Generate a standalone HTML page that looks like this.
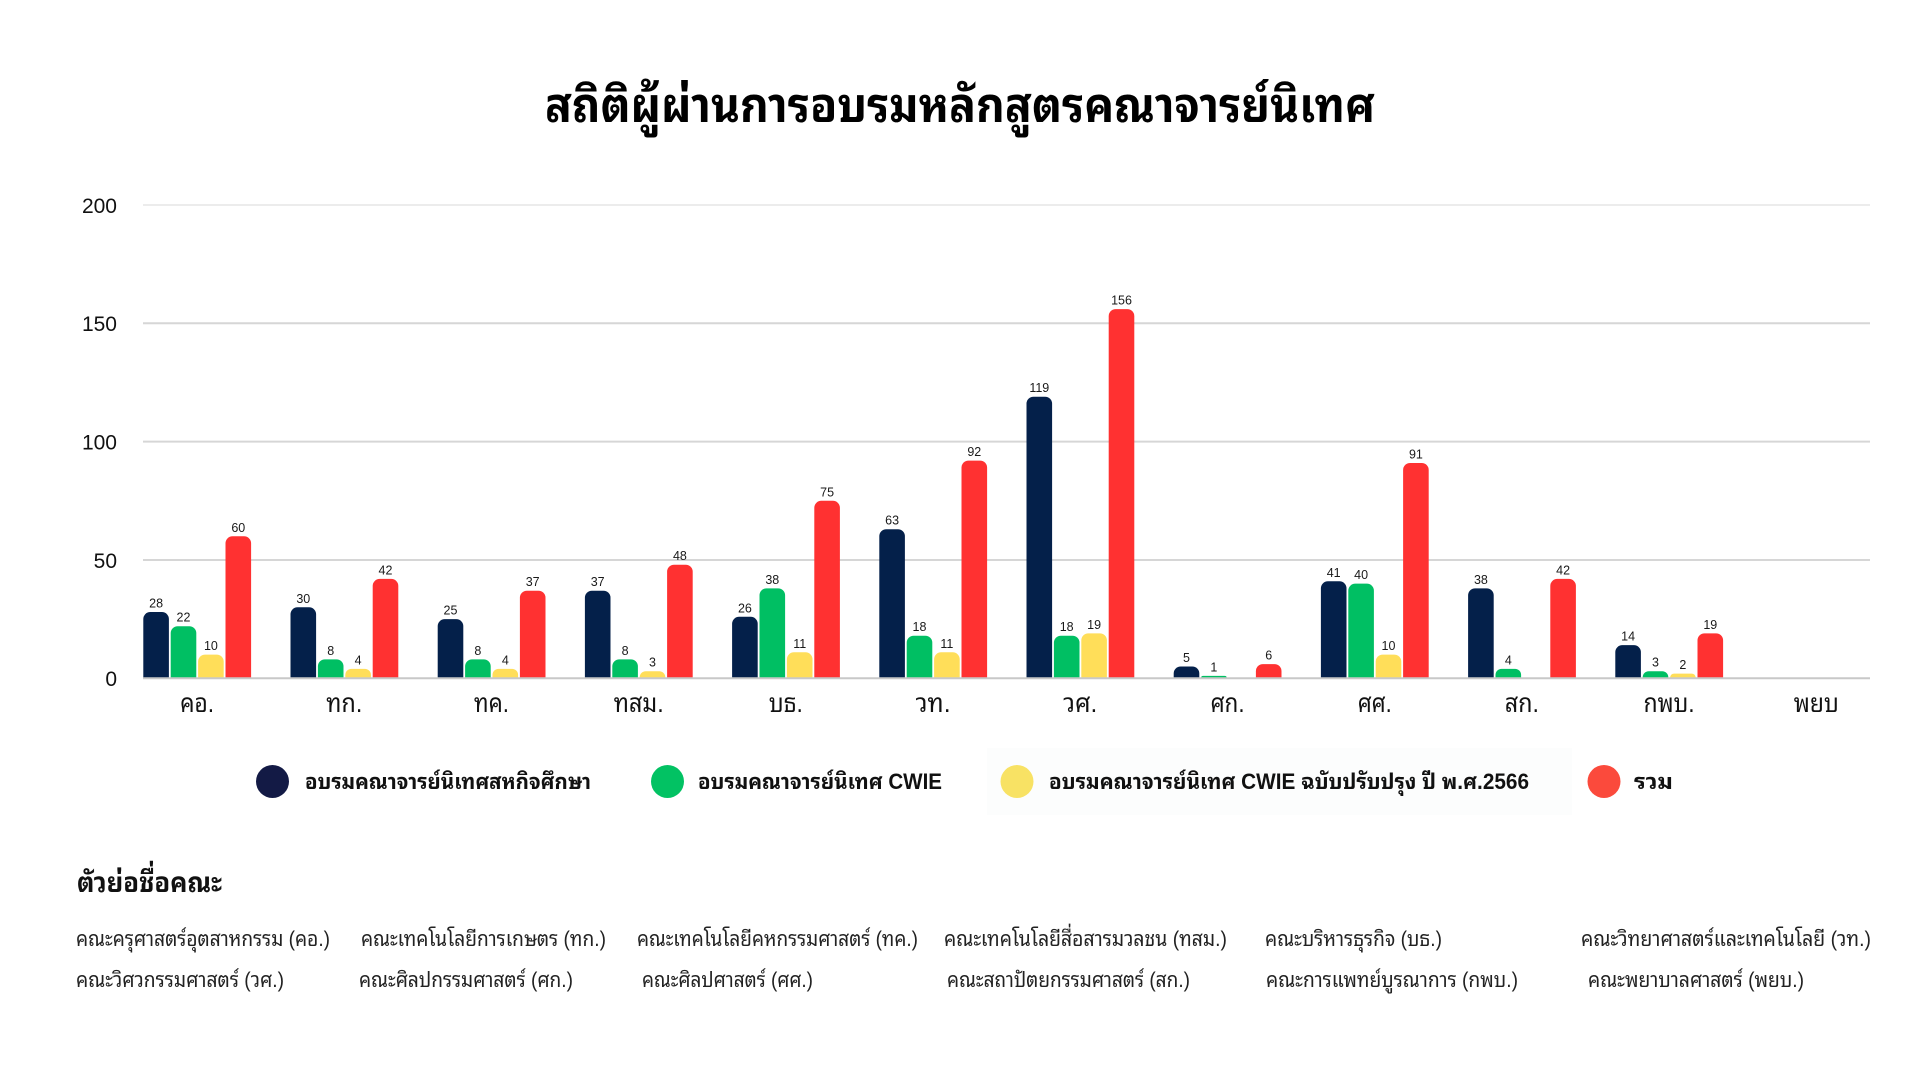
<!DOCTYPE html>
<html>
<head>
<meta charset="utf-8">
<style>
html,body{margin:0;padding:0;background:#fff;}
svg{display:block;}
.th{font-family:"Liberation Sans","Noto Sans Thai Looped","Loma","Tahoma","Garuda","Norasi","Noto Sans Thai","Noto Sans Thai UI","Sarabun","DejaVu Sans",sans-serif;}
.num{font-family:"Liberation Sans","DejaVu Sans",sans-serif;}
</style>
</head>
<body>
<svg width="1920" height="1080" viewBox="0 0 1920 1080" xmlns="http://www.w3.org/2000/svg">
<rect x="0" y="0" width="1920" height="1080" fill="#ffffff"/>
<defs>
<clipPath id="plot"><rect x="0" y="0" width="1920" height="678.3"/></clipPath>
</defs>

<!-- Title -->
<text class="th" x="960" y="122" font-size="48" font-weight="bold" fill="#000" text-anchor="middle" textLength="830" lengthAdjust="spacingAndGlyphs">สถิติผู้ผ่านการอบรมหลักสูตรคณาจารย์นิเทศ</text>

<!-- Gridlines -->
<g stroke-width="2">
<line x1="143" y1="205" x2="1870" y2="205" stroke="#ececec"/>
<line x1="143" y1="323.3" x2="1870" y2="323.3" stroke="#d6d6d6"/>
<line x1="143" y1="441.6" x2="1870" y2="441.6" stroke="#d6d6d6"/>
<line x1="143" y1="560" x2="1870" y2="560" stroke="#d6d6d6"/>
</g>

<!-- Y labels -->
<g class="num" font-size="21" fill="#111" text-anchor="end">
<text x="117" y="213">200</text>
<text x="117" y="331">150</text>
<text x="117" y="449.5">100</text>
<text x="117" y="568">50</text>
<text x="117" y="686">0</text>
</g>

<!-- Bars -->
<g clip-path="url(#plot)">
<g fill="#04204a">
<rect x="143.3" y="612.04" width="25.6" height="80" rx="7"/>
<rect x="290.5" y="607.3" width="25.6" height="80" rx="7"/>
<rect x="437.7" y="619.14" width="25.6" height="80" rx="7"/>
<rect x="584.9" y="590.74" width="25.6" height="100" rx="7"/>
<rect x="732.1" y="616.77" width="25.6" height="80" rx="7"/>
<rect x="879.3" y="529.21" width="25.6" height="160" rx="7"/>
<rect x="1026.5" y="396.69" width="25.6" height="290" rx="7"/>
<rect x="1173.7" y="666.47" width="25.6" height="20" rx="7"/>
<rect x="1320.9" y="581.27" width="25.6" height="110" rx="7"/>
<rect x="1468.1" y="588.37" width="25.6" height="100" rx="7"/>
<rect x="1615.3" y="645.17" width="25.6" height="45" rx="7"/>
</g>
<g fill="#00bf63">
<rect x="170.7" y="626.24" width="25.6" height="60" rx="7"/>
<rect x="317.9" y="659.37" width="25.6" height="30" rx="7"/>
<rect x="465.1" y="659.37" width="25.6" height="30" rx="7"/>
<rect x="612.3" y="659.37" width="25.6" height="30" rx="7"/>
<rect x="759.5" y="588.37" width="25.6" height="100" rx="7"/>
<rect x="906.7" y="635.7" width="25.6" height="55" rx="7"/>
<rect x="1053.9" y="635.7" width="25.6" height="55" rx="7"/>
<rect x="1201.1" y="675.93" width="25.6" height="6" rx="2"/>
<rect x="1348.3" y="583.64" width="25.6" height="100" rx="7"/>
<rect x="1495.5" y="668.83" width="25.6" height="20" rx="6"/>
<rect x="1642.7" y="671.2" width="25.6" height="15" rx="6"/>
</g>
<g fill="#ffde59">
<rect x="198.1" y="654.63" width="25.6" height="35" rx="7"/>
<rect x="345.3" y="668.83" width="25.6" height="20" rx="6"/>
<rect x="492.5" y="668.83" width="25.6" height="20" rx="6"/>
<rect x="639.7" y="671.2" width="25.6" height="15" rx="6"/>
<rect x="786.9" y="652.27" width="25.6" height="35" rx="7"/>
<rect x="934.1" y="652.27" width="25.6" height="35" rx="7"/>
<rect x="1081.3" y="633.34" width="25.6" height="55" rx="7"/>
<rect x="1375.7" y="654.63" width="25.6" height="35" rx="7"/>
<rect x="1670.1" y="673.57" width="25.6" height="12" rx="4"/>
</g>
<g fill="#ff3131">
<rect x="225.5" y="536.31" width="25.6" height="150" rx="7"/>
<rect x="372.7" y="578.91" width="25.6" height="110" rx="7"/>
<rect x="519.9" y="590.74" width="25.6" height="100" rx="7"/>
<rect x="667.1" y="564.71" width="25.6" height="120" rx="7"/>
<rect x="814.3" y="500.81" width="25.6" height="185" rx="7"/>
<rect x="961.5" y="460.58" width="25.6" height="225" rx="7"/>
<rect x="1108.7" y="309.13" width="25.6" height="380" rx="7"/>
<rect x="1255.9" y="664.1" width="25.6" height="20" rx="7"/>
<rect x="1403.1" y="462.95" width="25.6" height="225" rx="7"/>
<rect x="1550.3" y="578.91" width="25.6" height="110" rx="7"/>
<rect x="1697.5" y="633.34" width="25.6" height="55" rx="7"/>
</g>
</g>

<line x1="143" y1="678.3" x2="1870" y2="678.3" stroke="#c8c8c8" stroke-width="2"/>

<!-- Value labels -->
<g class="num" font-size="12.5" fill="#1a1a1a" text-anchor="middle">
<text x="156.1" y="607.5">28</text>
<text x="303.3" y="602.8">30</text>
<text x="450.5" y="614.6">25</text>
<text x="597.7" y="586.2">37</text>
<text x="744.9" y="612.3">26</text>
<text x="892.1" y="524.7">63</text>
<text x="1039.3" y="392.2">119</text>
<text x="1186.5" y="662">5</text>
<text x="1333.7" y="576.8">41</text>
<text x="1480.9" y="583.9">38</text>
<text x="1628.1" y="640.7">14</text>
<text x="183.5" y="621.7">22</text>
<text x="330.7" y="654.9">8</text>
<text x="477.9" y="654.9">8</text>
<text x="625.1" y="654.9">8</text>
<text x="772.3" y="583.9">38</text>
<text x="919.5" y="631.2">18</text>
<text x="1066.7" y="631.2">18</text>
<text x="1213.9" y="671.4">1</text>
<text x="1361.1" y="579.1">40</text>
<text x="1508.3" y="664.3">4</text>
<text x="1655.5" y="666.7">3</text>
<text x="210.9" y="650.1">10</text>
<text x="358.1" y="664.3">4</text>
<text x="505.3" y="664.3">4</text>
<text x="652.5" y="666.7">3</text>
<text x="799.7" y="647.8">11</text>
<text x="946.9" y="647.8">11</text>
<text x="1094.1" y="628.8">19</text>
<text x="1388.5" y="650.1">10</text>
<text x="1682.9" y="669.1">2</text>
<text x="238.3" y="531.8">60</text>
<text x="385.5" y="574.4">42</text>
<text x="532.7" y="586.2">37</text>
<text x="679.9" y="560.2">48</text>
<text x="827.1" y="496.3">75</text>
<text x="974.3" y="456.1">92</text>
<text x="1121.5" y="304.6">156</text>
<text x="1268.7" y="659.6">6</text>
<text x="1415.9" y="458.5">91</text>
<text x="1563.1" y="574.4">42</text>
<text x="1710.3" y="628.8">19</text>
</g>

<!-- Category labels -->
<g class="th" font-size="26" fill="#111" text-anchor="middle">
<text x="197.1" y="712" textLength="34" lengthAdjust="spacingAndGlyphs">คอ.</text>
<text x="344.3" y="712" textLength="36" lengthAdjust="spacingAndGlyphs">ทก.</text>
<text x="491.5" y="712" textLength="35" lengthAdjust="spacingAndGlyphs">ทค.</text>
<text x="638.7" y="712" textLength="50" lengthAdjust="spacingAndGlyphs">ทสม.</text>
<text x="785.9" y="712" textLength="34" lengthAdjust="spacingAndGlyphs">บธ.</text>
<text x="933.1" y="712" textLength="35" lengthAdjust="spacingAndGlyphs">วท.</text>
<text x="1080.3" y="712" textLength="34" lengthAdjust="spacingAndGlyphs">วศ.</text>
<text x="1227.5" y="712" textLength="34" lengthAdjust="spacingAndGlyphs">ศก.</text>
<text x="1374.7" y="712" textLength="34" lengthAdjust="spacingAndGlyphs">ศศ.</text>
<text x="1521.9" y="712" textLength="34" lengthAdjust="spacingAndGlyphs">สก.</text>
<text x="1669.1" y="712" textLength="51" lengthAdjust="spacingAndGlyphs">กพบ.</text>
<text x="1816.3" y="712" textLength="45" lengthAdjust="spacingAndGlyphs">พยบ</text>
</g>

<!-- Legend -->
<rect x="987" y="748" width="585" height="67" fill="#fcfdfd"/>
<circle cx="272.5" cy="781.5" r="16.5" fill="#131a45"/>
<circle cx="667.5" cy="781.5" r="16.5" fill="#02c263"/>
<circle cx="1017" cy="781.5" r="16.5" fill="#f8e264"/>
<circle cx="1604" cy="781.5" r="16.5" fill="#fb4a3c"/>
<g class="th" font-size="22" font-weight="bold" fill="#111">
<text x="305" y="789" textLength="286" lengthAdjust="spacingAndGlyphs">อบรมคณาจารย์นิเทศสหกิจศึกษา</text>
<text x="698" y="789" textLength="244" lengthAdjust="spacingAndGlyphs">อบรมคณาจารย์นิเทศ CWIE</text>
<text x="1049" y="789" textLength="480" lengthAdjust="spacingAndGlyphs">อบรมคณาจารย์นิเทศ CWIE ฉบับปรับปรุง ปี พ.ศ.2566</text>
<text x="1634" y="789" textLength="39" lengthAdjust="spacingAndGlyphs">รวม</text>
</g>

<!-- Abbreviations -->
<text class="th" x="77" y="892" font-size="28" font-weight="bold" fill="#111" textLength="145" lengthAdjust="spacingAndGlyphs">ตัวย่อชื่อคณะ</text>
<g class="th" font-size="21" fill="#222">
<text x="76" y="946" textLength="254" lengthAdjust="spacingAndGlyphs">คณะครุศาสตร์อุตสาหกรรม (คอ.)</text>
<text x="361" y="946" textLength="245" lengthAdjust="spacingAndGlyphs">คณะเทคโนโลยีการเกษตร (ทก.)</text>
<text x="637" y="946" textLength="281" lengthAdjust="spacingAndGlyphs">คณะเทคโนโลยีคหกรรมศาสตร์ (ทค.)</text>
<text x="944" y="946" textLength="283" lengthAdjust="spacingAndGlyphs">คณะเทคโนโลยีสื่อสารมวลชน (ทสม.)</text>
<text x="1265" y="946" textLength="177" lengthAdjust="spacingAndGlyphs">คณะบริหารธุรกิจ (บธ.)</text>
<text x="1581" y="946" textLength="290" lengthAdjust="spacingAndGlyphs">คณะวิทยาศาสตร์และเทคโนโลยี (วท.)</text>

<text x="76" y="987" textLength="208" lengthAdjust="spacingAndGlyphs">คณะวิศวกรรมศาสตร์ (วศ.)</text>
<text x="359" y="987" textLength="214" lengthAdjust="spacingAndGlyphs">คณะศิลปกรรมศาสตร์ (ศก.)</text>
<text x="642" y="987" textLength="171" lengthAdjust="spacingAndGlyphs">คณะศิลปศาสตร์ (ศศ.)</text>
<text x="947" y="987" textLength="243" lengthAdjust="spacingAndGlyphs">คณะสถาปัตยกรรมศาสตร์ (สก.)</text>
<text x="1266" y="987" textLength="252" lengthAdjust="spacingAndGlyphs">คณะการแพทย์บูรณาการ (กพบ.)</text>
<text x="1588" y="987" textLength="216" lengthAdjust="spacingAndGlyphs">คณะพยาบาลศาสตร์ (พยบ.)</text>
</g>
</svg>
</body>
</html>
